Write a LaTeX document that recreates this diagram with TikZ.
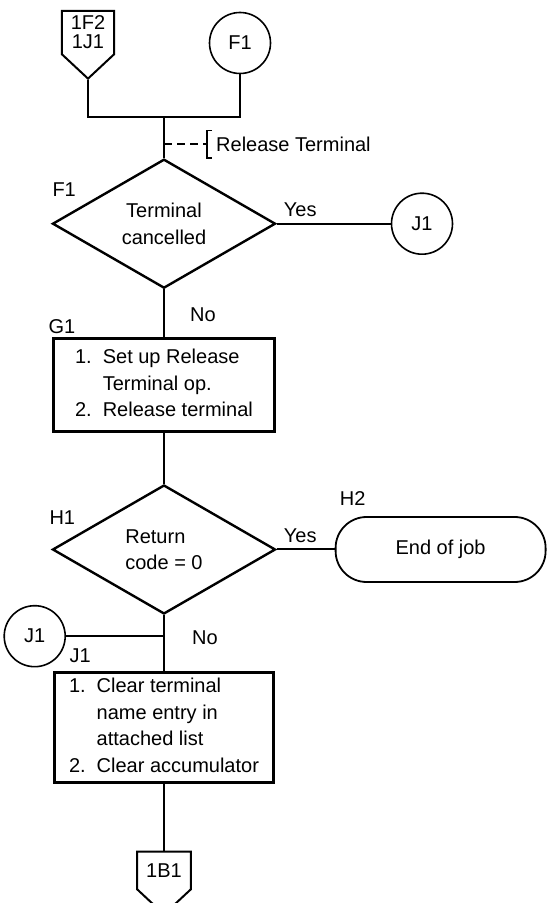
\documentclass[tikz,border=0pt]{standalone}
\usepackage{fontspec}
\setmainfont{Liberation Sans}
\usetikzlibrary{positioning,shapes.geometric,shapes.symbols,calc}
\newcommand{\steplist}[1]{\begin{tabular}{@{}l@{\hspace{11pt}}l@{}}#1\end{tabular}}

\begin{document}
\begin{tikzpicture}[
  x=1pt, y=1pt,
  every node/.style={font=\fontsize{20}{26.5}\selectfont},
  decision/.style={diamond, draw, line width=2.4pt, aspect=1.73, align=center,
    minimum width=223pt, minimum height=129pt, inner sep=0pt},
  process/.style={rectangle, draw, line width=2.4pt,
    minimum width=221pt, minimum height=93pt, inner sep=0pt},
  conn/.style={circle, draw, line width=1.6pt, minimum size=61pt, inner sep=0pt},
  offpage/.style={signal, signal to=south, signal pointer angle=94, draw,
    line width=2pt, inner xsep=9pt, inner ysep=3pt, align=center,
    font=\fontsize{20}{19}\selectfont},
  term/.style={rectangle, rounded corners=31pt, draw, line width=1.8pt,
    minimum width=210pt, minimum height=65pt},
  tag/.style={inner sep=0pt},
  remark/.style={minimum height=27pt, inner xsep=9pt, inner ysep=0pt},
  flow/.style={line width=2pt},
]
\useasboundingbox (0,0) rectangle (547,903);

% TOP: entry connectors
\node[offpage, inner ysep=5pt, anchor=north] (o1F2) at (88,893) {1F2\\1J1};
\node[conn] (cF1) at (240,860) {F1};
\coordinate (join) at (164,786);

% F1: terminal cancelled?
\node[decision, below=41pt of join] (dF1) {Terminal\\cancelled};
\coordinate (aRel) at ($(join)!0.66!(dF1.north)$);
\node[remark, right=43pt of aRel] (rel) {Release Terminal};
\node[conn, right=114pt of dF1] (cJ1r) {J1};
\node[tag, above right=27pt and 1pt of dF1.west] (lF1) {F1};
\node[tag, above right=7pt and 7pt of dF1.east] (yF1) {Yes};
\node[tag, below right=18pt and 26pt of dF1.south] (nF1) {No};

% G1: release terminal
\node[process, below=48pt of dF1] (bG1)
  {\steplist{1. & Set up Release\\ & Terminal op.\\ 2. & Release terminal}};
\node[tag, above right=3pt and -4pt of bG1.north west] (lG1) {G1};

% H1: return code
\node[decision, align=left, below=51pt of bG1] (dH1) {Return\\code = 0};
\node[tag, above right=25pt and -2pt of dH1.west] (lH1) {H1};
\node[tag, above right=7pt and 7pt of dH1.east] (yH1) {Yes};
\node[tag, below right=15pt and 28pt of dH1.south] (nH1) {No};
\node[term, right=58pt of dH1] (tEnd) {End of job};
\node[tag, above right=10pt and 5pt of tEnd.north west] (lH2) {H2};

% J1: clear entry
\coordinate[below=21pt of dH1] (jJ1);
\node[conn, left=98pt of jJ1] (cJ1l) {J1};
\node[process, minimum width=219pt, minimum height=110pt, below=56pt of dH1] (bJ1)
  {\steplist{1. & Clear terminal\\ & name entry in\\ & attached list\\ 2. & Clear accumulator}};
\node[tag, above right=8pt and 16pt of bJ1.north west] (lJ1) {J1};
\node[offpage, inner ysep=12pt, below=67pt of bJ1] (o1B1) {1B1};

% LINES
\draw[flow] (o1F2.south) |- (join);
\draw[flow] (cF1.south) |- (join);
\draw[flow] (join) -- (dF1.north);
\draw[flow, dash pattern=on 8pt off 5pt] (aRel) -- (rel.west);
\draw[flow, line width=1.5pt] ([xshift=5pt]rel.north west) -- (rel.north west)
  -- (rel.south west) -- ([xshift=5pt]rel.south west);
\draw[flow] (dF1.east) -- (cJ1r.west);
\draw[flow] (dF1.south) -- (bG1.north);
\draw[flow] (bG1.south) -- (dH1.north);
\draw[flow] (dH1.east) -- (tEnd.west);
\draw[flow] (dH1.south) -- (bJ1.north);
\draw[flow] (cJ1l.east) -- (jJ1);
\draw[flow] (bJ1.south) -- (o1B1.north);
\end{tikzpicture}
\end{document}
